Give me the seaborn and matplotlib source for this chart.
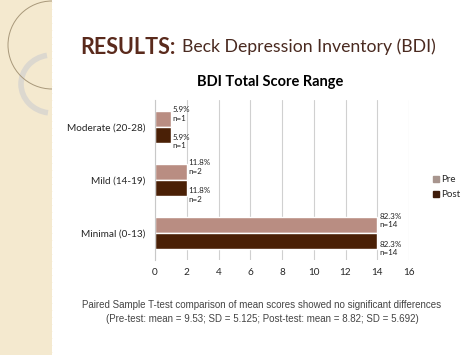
import pandas as pd
import seaborn as sns
import matplotlib.pyplot as plt
from matplotlib.patches import Rectangle, Arc

# Data
categories = ['Moderate (20-28)', 'Mild (14-19)', 'Minimal (0-13)']
pre_counts = [1, 2, 14]
post_counts = [1, 2, 14]
pct_labels = ['5.9%', '11.8%', '82.3%']
x_ticks = [0, 2, 4, 6, 8, 10, 12, 14, 16]

df = pd.DataFrame({
    'Category': categories * 2,
    'Count': pre_counts + post_counts,
    'Test': ['Pre'] * len(categories) + ['Post'] * len(categories),
    'Pct': pct_labels * 2,
})

sns.set_style('white')
plt.rcParams['font.family'] = ['Lato', 'DejaVu Sans']

fig = plt.figure(figsize=(4.74, 3.55), dpi=100)
fig.patch.set_facecolor('white')

# Decorative slide strip on the left (pixel coords via inches)
px = lambda v: v / 100.0
fig.patches.append(Rectangle((0, 0), px(52), px(355), transform=fig.dpi_scale_trans,
                             facecolor='#f4e9cf', edgecolor='none', zorder=0))
for gx in range(3, 52, 7):
    fig.lines.append(plt.Line2D([px(gx), px(gx)], [0, px(355)], transform=fig.dpi_scale_trans,
                                color='#fbf6ea', lw=0.6, zorder=0))
for gy in range(3, 355, 7):
    fig.lines.append(plt.Line2D([0, px(52)], [px(gy), px(gy)], transform=fig.dpi_scale_trans,
                                color='#fbf6ea', lw=0.6, zorder=0))
fig.patches.append(Arc((px(52), px(355 - 84)), px(62), px(58), theta1=100, theta2=262,
                       transform=fig.dpi_scale_trans, edgecolor='#dcd8cf', lw=4, zorder=0))
fig.patches.append(Arc((px(52), px(355 - 45)), px(88), px(88), theta1=90, theta2=270,
                       transform=fig.dpi_scale_trans, edgecolor='#a8987a', lw=0.7, zorder=0))

# Slide headings
fig.text(80 / 474, 1 - 47 / 355, 'RESULTS:', fontsize=15.5, fontweight='bold',
         color='#5a2a1c', va='center', ha='left')
fig.text(182 / 474, 1 - 47 / 355, 'Beck Depression Inventory (BDI)', fontsize=12.7,
         color='#4a2a20', va='center', ha='left')
fig.text(270 / 474, 1 - 82 / 355, 'BDI Total Score Range', fontsize=10.5,
         fontweight='bold', color='black', va='center', ha='center')

ax = fig.add_axes([155 / 474, 95 / 355, 254 / 474, 160 / 355])
palette = {'Pre': '#b98d82', 'Post': '#4a2006'}
sns.barplot(data=df, y='Category', x='Count', hue='Test', order=categories,
            hue_order=['Pre', 'Post'], palette=palette, orient='h',
            width=0.6, ax=ax, saturation=1, legend=False)

# Value labels next to bars
offsets = {'Pre': -0.09, 'Post': 0.13}
for container, test in zip(ax.containers, ['Pre', 'Post']):
    sub = df[df['Test'] == test].set_index('Category').loc[categories]
    for bar, pct, n in zip(container, sub['Pct'], sub['Count']):
        yc = bar.get_y() + bar.get_height() / 2 + offsets[test]
        ax.text(bar.get_width() + 0.12, yc, f'{pct}\nn={n}',
                fontsize=5.8, va='center', ha='left', color='#222222', linespacing=1.25)

ax.set_xlim(0, 16)
ax.set_ylim(2.5, -0.5)
ax.set_xticks(x_ticks)
ax.set_xticklabels([str(t) for t in x_ticks], fontsize=7.2)
ax.tick_params(axis='both', length=0, pad=6)
ax.tick_params(axis='y', labelsize=7.2, pad=7)
ax.set_xlabel('')
ax.set_ylabel('')
ax.xaxis.grid(True, color='#d0d0d0', lw=0.8)
ax.set_axisbelow(True)
for side in ['top', 'right', 'bottom']:
    ax.spines[side].set_visible(False)
ax.spines['left'].set_color('#c8c8c8')
ax.spines['left'].set_linewidth(0.8)

# Legend
handles = [plt.Line2D([0], [0], marker='s', color='w', markerfacecolor=c,
                      markeredgecolor=c, markersize=5, label=l)
           for l, c in [('Pre', '#a8958e'), ('Post', '#3e1c0a')]]
fig.legend(handles=handles, loc='center left', bbox_to_anchor=(422 / 474, 1 - 187 / 355),
           frameon=False, fontsize=7, handletextpad=0.1, labelspacing=0.6,
           handlelength=1.0)

# Footnote
fig.text(262 / 474, 1 - 305 / 355,
         'Paired Sample T-test comparison of mean scores showed no significant differences',
         fontsize=7, color='#444444', ha='center', va='center', family='Liberation Sans')
fig.text(262 / 474, 1 - 319 / 355,
         '(Pre-test: mean = 9.53; SD = 5.125; Post-test: mean = 8.82; SD = 5.692)',
         fontsize=7, color='#444444', ha='center', va='center', family='Liberation Sans')

fig.savefig('out.png', dpi=100)
